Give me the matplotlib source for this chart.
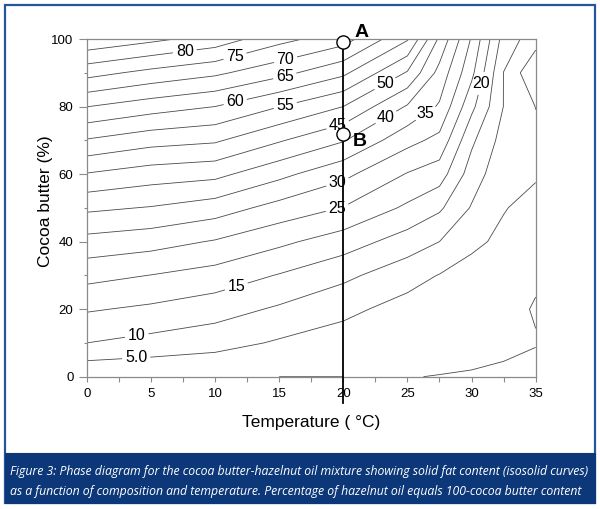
import numpy as np
import matplotlib
matplotlib.use('Agg')
import matplotlib.pyplot as plt
from matplotlib.patches import Rectangle
from matplotlib import font_manager as fm

# ---------------- data ----------------
temperature = [0, 5, 10, 15, 20, 25, 27.5, 30, 32.5, 35]          # deg C
cocoa_butter = [0, 10, 20, 30, 40, 50, 60, 70, 80, 90, 100]        # %
# solid fat content (%) along cocoa butter 0..100 for each temperature
sfc_t00 = [0.5, 10.0, 15.5, 21.6, 28.3, 36.0, 44.7, 54.6, 65.1, 76.8, 89.1]
sfc_t05 = [0.3, 8.4, 14.1, 19.9, 27.0, 34.7, 42.5, 51.9, 62.3, 73.6, 86.2]
sfc_t10 = [0.1, 6.9, 12.2, 18.0, 24.6, 32.5, 41.4, 50.7, 60.0, 71.0, 83.0]
sfc_t15 = [0.0, 4.4, 9.3, 14.7, 21.1, 28.2, 36.4, 45.5, 55.1, 66.6, 76.6]
sfc_t20 = [0.0, 2.8, 6.2, 11.2, 17.5, 24.8, 31.3, 40.4, 50.0, 61.1, 72.2]
sfc_t25 = [0.1, 2.0, 3.2, 6.9, 12.7, 19.1, 24.7, 31.6, 39.5, 49.5, 60.5]
sfc_t275 = [-0.1, 1.5, 3.0, 4.8, 10.0, 15.8, 22.4, 28.6, 34.4, 38.3, 44.0]
sfc_t30 = [-0.25, 1.0, 2.2, 3.6, 5.8, 9.6, 12.6, 16.0, 21.3, 26.3, 29.5]
sfc_t325 = [-1.0, 1.2, 2.5, 3.5, 4.2, 5.2, 6.5, 8.0, 9.9, 9.9, 13.0]
sfc_t35 = [-3.0, 0.45, -0.6, 1.07, 2.0, 3.8, 5.4, 6.0, 4.9, 0.48, 7.2]

levels = [0, 5, 10, 15, 20, 25, 30, 35, 40, 45, 50, 55, 60, 65, 70, 75, 80, 85]
label_points = [(3.85, 5.9), (3.9, 12.3), (11.7, 26.2), (30.6, 87.0), (19.5, 50.3),
                (19.5, 58.2), (26.5, 77.5), (23.3, 77.0), (19.5, 75.5), (23.3, 86.4),
                (15.5, 80.0), (11.6, 81.0), (15.5, 88.2), (15.5, 93.8), (11.6, 94.3),
                (7.66, 95.9)]

line_temperature = 20
point_a = 99
point_b = 72
x_ticks = [0, 5, 10, 15, 20, 25, 30, 35]
y_ticks = [0, 20, 40, 60, 80, 100]

caption_lines = [
    "Figure 3: Phase diagram for the cocoa butter-hazelnut oil mixture showing solid fat content (isosolid curves)",
    "as a function of composition and temperature. Percentage of hazelnut oil equals 100-cocoa butter content",
]

# ---------------- figure ----------------
plt.rcParams['font.family'] = ['Liberation Sans', 'DejaVu Sans']

W, H = 600, 509
fig = plt.figure(figsize=(W / 100, H / 100), dpi=100)
fig.patch.set_facecolor('white')

def fx(px):
    return px / W

def fy(py):
    return 1 - py / H

# outer frame and caption band
blue_frame = '#2456a0'
caption_bg = '#0c3778'
fig.patches.append(Rectangle((fx(5), fy(503)), fx(590), 498 / H, transform=fig.transFigure,
                             facecolor='none', edgecolor=blue_frame, linewidth=1.6, zorder=0))
fig.patches.append(Rectangle((fx(5), fy(503)), fx(590), 50 / H, transform=fig.transFigure,
                             facecolor=caption_bg, edgecolor=caption_bg, linewidth=0.8, zorder=1))

ax = fig.add_axes([fx(86.7), fy(376.7), (535.7 - 86.7) / W, (376.7 - 39) / H])

T = np.array(temperature)
C = np.array(cocoa_butter)
Z = np.array([sfc_t00, sfc_t05, sfc_t10, sfc_t15, sfc_t20, sfc_t25,
              sfc_t275, sfc_t30, sfc_t325, sfc_t35]).T

cs = ax.contour(T, C, Z, levels=levels, colors='#4a4a4a', linewidths=0.6)

def fmt(v):
    return '5.0' if abs(v - 5) < 1e-9 else f'{v:.0f}'

texts = ax.clabel(cs, levels=cs.levels, manual=label_points, inline=True,
                  fmt=fmt, fontsize=11.5, inline_spacing=3)
for t in texts:
    t.set_rotation(0)
    t.set_color('black')

# vertical line and points A, B
ax.plot([line_temperature, line_temperature], [-7.9, point_a], color='black', lw=1.3,
        clip_on=False, zorder=4)
ax.plot([line_temperature, line_temperature], [point_a, point_b], 'o', ms=9.5,
        mfc='white', mec='black', mew=1.0, clip_on=False, zorder=5)
ax.text(21.45, 102.0, 'A', fontsize=14, fontweight='bold', ha='center', va='center',
        clip_on=False)
ax.text(21.3, 69.6, 'B', fontsize=14, fontweight='bold', ha='center', va='center',
        clip_on=False)

ax.set_xlim(0, 35)
ax.set_ylim(0, 100)
ax.set_xticks(x_ticks)
ax.set_yticks(y_ticks)
ax.set_xticks(np.arange(2.5, 35, 5), minor=True)
ax.set_yticks(np.arange(10, 100, 20), minor=True)

gray = '#8a8a8a'
for s in ax.spines.values():
    s.set_color(gray)
    s.set_linewidth(0.9)
ax.tick_params(axis='x', which='both', direction='out', length=3.6, width=0.8,
               color=gray, labelsize=9.5, pad=4.5)
ax.tick_params(axis='y', which='major', direction='out', length=5.5, width=0.8,
               color=gray, labelsize=9.5, pad=4)
ax.tick_params(axis='y', which='minor', direction='out', length=2.5, width=0.8, color=gray)

ax.set_xlabel('Temperature ( \u00b0C)', fontsize=12.5)
ax.set_ylabel('Cocoa butter (%)', fontsize=12.5)
ax.xaxis.set_label_coords(0.5, -0.112)
ax.yaxis.set_label_coords(-0.075, 0.52)

# caption
def pick(names):
    for n in names:
        try:
            fm.findfont(fm.FontProperties(family=n), fallback_to_default=False)
            return n
        except Exception:
            pass
    return 'DejaVu Sans'

cap_family = pick(['Liberation Sans Narrow', 'Open Sans', 'DejaVu Sans'])
t1 = fig.text(fx(10), fy(471.5), caption_lines[0], color='white', fontsize=9,
              family=cap_family, style='italic', ha='left', va='center')
t2 = fig.text(fx(10), fy(491), caption_lines[1], color='white', fontsize=9,
              family=cap_family, style='italic', ha='left', va='center')
fig.canvas.draw()
r = fig.canvas.get_renderer()
w1 = t1.get_window_extent(r).width
scale = 578.0 / w1
for t in (t1, t2):
    t.set_fontsize(9 * scale)

fig.savefig('out.png', dpi=100, facecolor='white')
